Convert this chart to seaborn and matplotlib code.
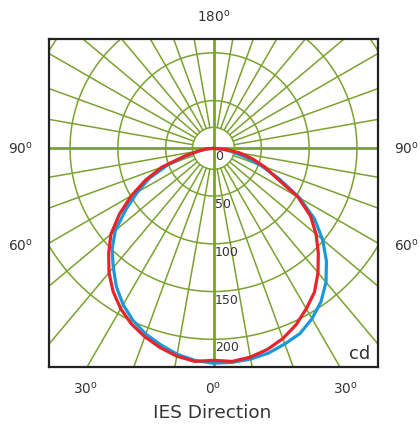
import numpy as np
import pandas as pd
import matplotlib.pyplot as plt
import seaborn as sns

# angle from nadir (deg, negative = left side) and luminous intensity (cd)
angles = [-90, -85, -80, -75, -70, -65, -60, -55, -50, -45, -40, -35, -30, -25, -20, -15, -10, -5,
          0, 5, 10, 15, 20, 25, 30, 35, 40, 45, 50, 55, 60, 65, 70, 75, 80, 85, 90]
blue_cd = [0, 7, 15, 29, 51, 74, 92, 112, 134, 150, 163, 177, 189, 199, 207, 213, 219, 223,
           225, 225, 224, 222, 218, 214, 206, 196, 183, 167, 149, 129, 104, 76, 53, 33, 19, 9, 0]
red_cd = [0, 8, 16, 31, 57, 78, 99, 120, 140, 155, 170, 183, 194, 203, 210, 216, 221, 224,
          222, 224, 222, 218, 212, 204, 194, 184, 170, 155, 140, 124, 102, 72, 57, 42, 28, 13, 0]

ring_values = [0, 50, 100, 150, 200]
ring_labels = ["0", "50", "100", "150", "200"]

sns.set_style("white")
plt.rcParams['font.family'] = ['DejaVu Sans']

green = "#7ba22f"
txt = "#333333"

fig = plt.figure(figsize=(4.2, 4.26), dpi=100)
ax = fig.add_axes([49 / 420, 1 - 367 / 426, 329 / 420, 328 / 426])
ax.set_xlim(-172, 172)
ax.set_ylim(-229, 114.5)

# polar grid
t = np.linspace(0, 2 * np.pi, 361)
for r in [22, 50, 100, 150, 200]:
    ax.plot(r * np.cos(t), r * np.sin(t), color=green, lw=1.1, zorder=1)
for a in range(0, 360, 10):
    if a % 90 == 0:
        continue
    rad = np.deg2rad(a)
    ax.plot([22 * np.sin(rad), 400 * np.sin(rad)], [-22 * np.cos(rad), -400 * np.cos(rad)],
            color=green, lw=1.1, zorder=1)
ax.axhline(0, color=green, lw=2, zorder=1.5)
ax.axvline(0, color=green, lw=2, zorder=1.5)

# curves
for vals, col in [(blue_cd, "#1a98d8"), (red_cd, "#e8232b")]:
    a = np.deg2rad(angles)
    df = pd.DataFrame({"x": np.array(vals) * np.sin(a), "y": -np.array(vals) * np.cos(a)})
    sns.lineplot(data=df, x="x", y="y", sort=False, estimator=None, color=col, lw=2.3,
                 solid_joinstyle="round", ax=ax, zorder=3)

for v, lab in zip(ring_values, ring_labels):
    ax.text(1.5, -(v + 9), lab, fontsize=9, ha="left", va="center", color=txt, zorder=4)

ax.text(0.976, 0.012, "cd", transform=ax.transAxes, ha="right", va="bottom", fontsize=13, color=txt)

ax.set_xticks([])
ax.set_yticks([])
ax.set_xlabel("")
ax.set_ylabel("")
for s in ax.spines.values():
    s.set_color("#222222")
    s.set_linewidth(1.6)

deg = r"$^{\mathregular{o}}$"
for (px, py, lab) in [(214, 17, "180"), (20, 149, "90"), (406, 149, "90"), (20, 246, "60"),
                      (406, 246, "60"), (85, 389, "30"), (213, 389, "0"), (345, 389, "30")]:
    fig.text(px / 420, 1 - py / 426, lab + deg, fontsize=9.8, ha="center", va="center", color=txt)

fig.text(212 / 420, 1 - 413 / 426, "IES Direction", fontsize=13.3, ha="center", va="center", color=txt)

fig.savefig("out.png", dpi=100)
